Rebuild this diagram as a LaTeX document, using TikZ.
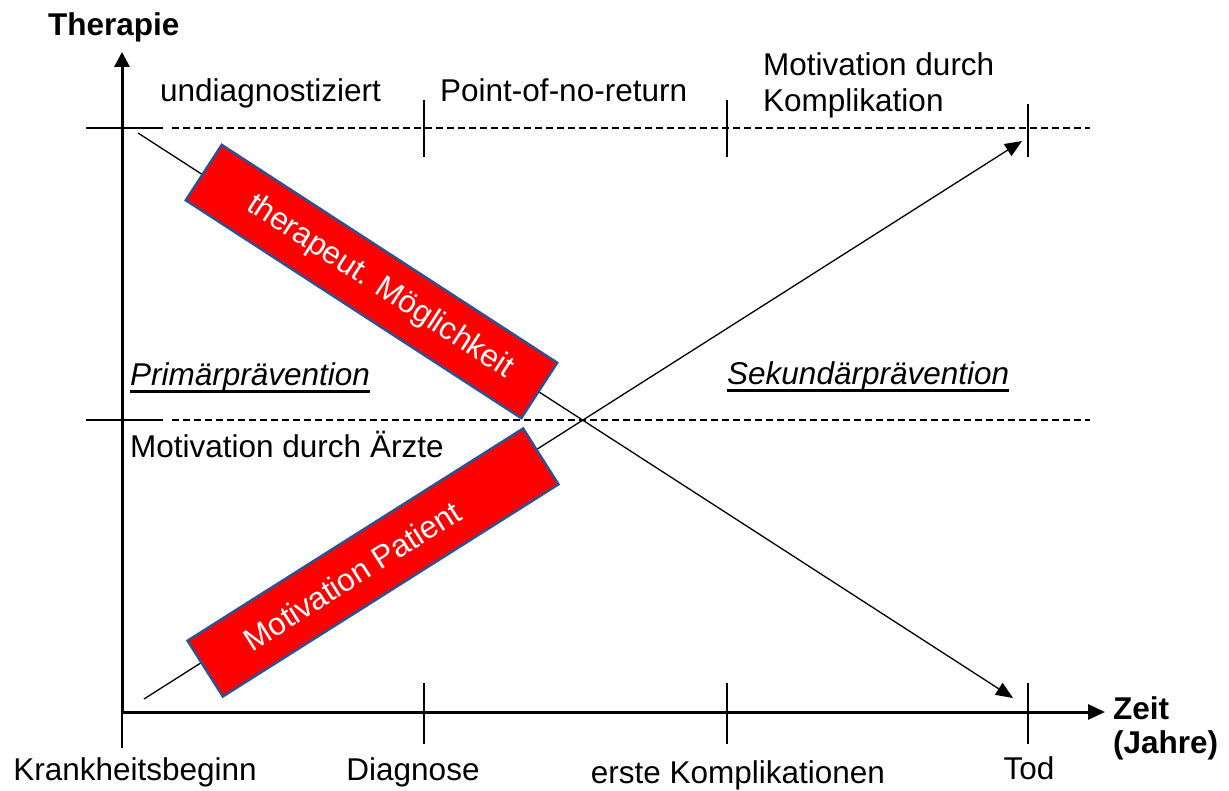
\documentclass[tikz,border=0pt]{standalone}
\usepackage{fontspec}
\setmainfont{Liberation Sans}
\usetikzlibrary{arrows.meta}
\definecolor{boxred}{RGB}{255,0,0}
\definecolor{boxedge}{RGB}{47,82,143}
\begin{document}
\begin{tikzpicture}[x=1pt,y=-1pt,
  lbl/.style={inner sep=0pt, font=\fontsize{31.5}{36}\selectfont},
  blbl/.style={inner sep=0pt, font=\fontsize{31.5}{36}\selectfont\bfseries},
  ilbl/.style={inner sep=0pt, font=\fontsize{31.5}{36}\selectfont\itshape},
  axis/.style={line width=3pt},
  thin/.style={line width=1.3pt},
  dashline/.style={line width=1.3pt, dash pattern=on 7pt off 4pt},
  ulinestyle/.style={line width=3pt},
  diag/.style={line width=1.3pt, -{Triangle[length=17pt,width=14pt]}},
  redbox/.style={draw=boxedge, line width=2.5pt, fill=boxred, text=white,
    minimum height=66pt, inner sep=0pt, font=\fontsize{31.5}{36}\selectfont}
]
\useasboundingbox (0,0) rectangle (1229,791);

% axes
\coordinate (o) at (122,712);
\coordinate (ytip) at (122,52);
\coordinate (xtip) at (1105,712);
\draw[axis,-{Triangle[length=15pt,width=15pt]}] (o) -- (ytip);
\draw[axis,-{Triangle[length=17pt,width=15pt]}] (o) -- (xtip);

% horizontal reference lines
\coordinate (h1a) at (86,128);  \coordinate (h1b) at (163,128);
\coordinate (h1c) at (172,128); \coordinate (h1d) at (1090,128);
\coordinate (h2a) at (86,420);  \coordinate (h2b) at (163,420);
\coordinate (h2c) at (172,420); \coordinate (h2d) at (1090,420);
\draw[thin] (h1a) -- (h1b);
\draw[dashline] (h1c) -- (h1d);
\draw[thin] (h2a) -- (h2b);
\draw[dashline] (h2c) -- (h2d);

% top ticks
\coordinate (t1a) at (424,100); \coordinate (t1b) at (424,157);
\coordinate (t2a) at (727,100); \coordinate (t2b) at (727,157);
\coordinate (t3a) at (1028,104); \coordinate (t3b) at (1028,157);
\draw[thin] (t1a) -- (t1b);
\draw[thin] (t2a) -- (t2b);
\draw[thin] (t3a) -- (t3b);

% bottom ticks
\coordinate (b0a) at (122,712); \coordinate (b0b) at (122,748);
\coordinate (b1a) at (424,683); \coordinate (b1b) at (424,744);
\coordinate (b2a) at (727,683); \coordinate (b2b) at (727,744);
\coordinate (b3a) at (1028,683); \coordinate (b3b) at (1028,744);
\draw[thin] (b0a) -- (b0b);
\draw[thin] (b1a) -- (b1b);
\draw[thin] (b2a) -- (b2b);
\draw[thin] (b3a) -- (b3b);

% diagonals
\coordinate (d1s) at (138,133); \coordinate (d1e) at (1013,698);
\coordinate (d2s) at (144,699); \coordinate (d2e) at (1022,141);
\draw[diag] (d1s) -- (d1e);
\draw[diag] (d2s) -- (d2e);

% red boxes
\node[redbox, rotate=-33, minimum width=400pt] (tm) at (371.5,281.5)
  {\hspace*{20pt}therapeut. Möglichkeit};
\node[redbox, rotate=32.3, minimum width=397pt] (mp) at (373,562.5)
  {Motivation Patient\hspace*{50pt}};

% labels
\node[blbl, anchor=base west] (ther) at (48,36) {Therapie};
\node[lbl, anchor=base west] (undiag) at (160,102) {undiagnostiziert};
\node[lbl, anchor=base west] (ponr) at (440,102) {Point-of-no-return};
\node[lbl, anchor=base west] (mdk1) at (763,76) {Motivation durch};
\node[lbl, anchor=base west] (mdk2) at (763,112) {Komplikation};
\node[ilbl, anchor=base west] (prim) at (130,386) {Primärprävention};
\node[ilbl, anchor=base west] (sek) at (727,385) {Sekundärprävention};
\draw[ulinestyle] ([yshift=-6pt]prim.base west) -- ([yshift=-6pt]prim.base east);
\draw[ulinestyle] ([yshift=-6pt]sek.base west) -- ([yshift=-6pt]sek.base east);
\node[lbl, anchor=base west] (mda) at (130,457) {Motivation durch Ärzte};
\node[lbl, anchor=base] (kb) at (135,780) {Krankheitsbeginn};
\node[lbl, anchor=base] (diag) at (413,780) {Diagnose};
\node[lbl, anchor=base] (ek) at (738,783) {erste Komplikationen};
\node[lbl, anchor=base] (tod) at (1029,779) {Tod};
\node[blbl, anchor=base west] (zeit1) at (1113,719) {Zeit};
\node[blbl, anchor=base west] (zeit2) at (1113,753) {(Jahre)};
\end{tikzpicture}
\end{document}
